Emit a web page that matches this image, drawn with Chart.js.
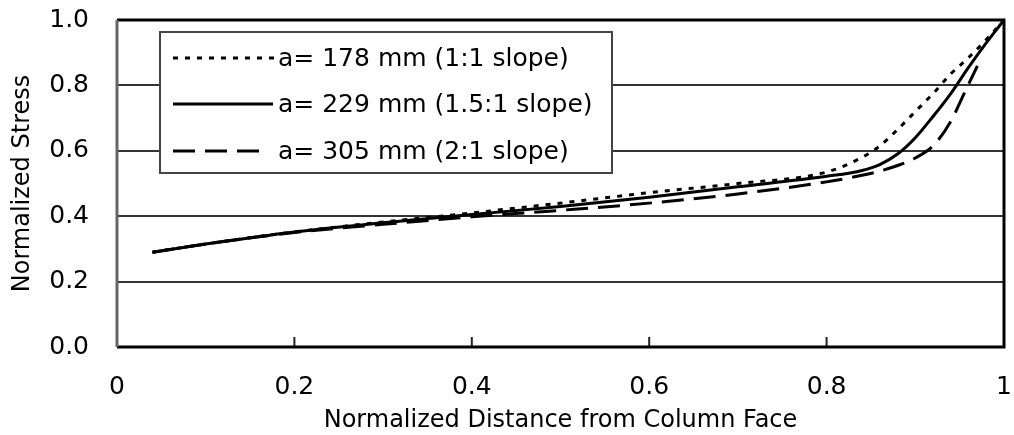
<!DOCTYPE html>
<html>
<head>
<meta charset="utf-8">
<script src="https://cdn.jsdelivr.net/npm/chart.js@4.4.1/dist/chart.umd.min.js"></script>
<style>
  html, body { margin: 0; padding: 0; background: #fff; }
  #wrap { width: 1014px; height: 435px; }
</style>
</head>
<body>
<div id="wrap"><canvas id="stressChart"></canvas></div>
<script>
// Series labels and tick labels
const seriesNames = ['a= 178 mm (1:1 slope)', 'a= 229 mm (1.5:1 slope)', 'a= 305 mm (2:1 slope)'];
const xTickLabels = ['0', '0.2', '0.4', '0.6', '0.8', '1'];
const yTickLabels = ['0.0', '0.2', '0.4', '0.6', '0.8', '1.0'];

// Normalized distance from column face (x) and normalized stress (y)
const dottedX = [0.04, 0.1, 0.2, 0.3, 0.4, 0.5, 0.6, 0.7, 0.8, 0.84, 0.86, 0.88, 0.9, 0.92, 0.94, 0.96, 0.98, 1.0];
const dottedY = [0.29, 0.315, 0.352, 0.382, 0.41, 0.44, 0.472, 0.50, 0.535, 0.58, 0.615, 0.665, 0.72, 0.775, 0.835, 0.885, 0.94, 1.0];

const solidX = [0.04, 0.1, 0.2, 0.3, 0.4, 0.5, 0.6, 0.7, 0.8, 0.84, 0.86, 0.88, 0.9, 0.92, 0.94, 0.96, 0.98, 1.0];
const solidY = [0.29, 0.315, 0.352, 0.38, 0.405, 0.43, 0.458, 0.49, 0.522, 0.54, 0.558, 0.59, 0.64, 0.705, 0.775, 0.855, 0.93, 1.0];

const dashedX = [0.04, 0.1, 0.2, 0.3, 0.4, 0.5, 0.6, 0.7, 0.8, 0.84, 0.86, 0.88, 0.9, 0.92, 0.94, 0.955, 0.97];
const dashedY = [0.29, 0.315, 0.35, 0.375, 0.398, 0.418, 0.44, 0.468, 0.505, 0.525, 0.538, 0.555, 0.578, 0.615, 0.69, 0.775, 0.86];

const lineDashes = [[5, 7], [], [22, 10]];
const FONT = 'DejaVu Sans';

function toPoints(xs, ys) {
    return xs.map((x, i) => ({ x: x, y: ys[i] }));
}

// Frame, inward x ticks and the boxed legend
const framePlugin = {
    id: 'frame',
    afterDraw(chart) {
        const { ctx, chartArea: a, scales } = chart;
        ctx.save();

        // small inward tick marks on the x axis
        ctx.strokeStyle = '#222';
        ctx.lineWidth = 2;
        scales.x.ticks.forEach(t => {
            const px = scales.x.getPixelForValue(t.value);
            ctx.beginPath();
            ctx.moveTo(px, a.bottom);
            ctx.lineTo(px, a.bottom - 10);
            ctx.stroke();
        });

        // plot frame
        ctx.lineWidth = 3;
        ctx.strokeStyle = '#000';
        ctx.beginPath();
        ctx.moveTo(a.left, a.top);
        ctx.lineTo(a.right, a.top);
        ctx.lineTo(a.right, a.bottom);
        ctx.lineTo(a.left, a.bottom);
        ctx.stroke();
        ctx.strokeStyle = '#666';
        ctx.beginPath();
        ctx.moveTo(a.left, a.bottom);
        ctx.lineTo(a.left, a.top);
        ctx.stroke();

        // legend box
        const bx = a.left + 43, by = a.top + 12, bw = 452, bh = 141;
        ctx.fillStyle = '#fff';
        ctx.fillRect(bx, by, bw, bh);
        ctx.lineWidth = 2;
        ctx.strokeStyle = '#444';
        ctx.strokeRect(bx, by, bw, bh);

        const rowY = [38, 84, 131];
        const sampleLen = [104, 100, 88];
        ctx.font = '25px "' + FONT + '"';
        ctx.textBaseline = 'middle';
        ctx.textAlign = 'left';
        chart.data.datasets.forEach((ds, i) => {
            const y = a.top + rowY[i];
            ctx.strokeStyle = '#000';
            ctx.lineWidth = 3;
            ctx.setLineDash(ds.borderDash || []);
            ctx.beginPath();
            ctx.moveTo(a.left + 56, y);
            ctx.lineTo(a.left + 56 + sampleLen[i], y);
            ctx.stroke();
            ctx.setLineDash([]);
            ctx.fillStyle = '#000';
            ctx.fillText(ds.label, a.left + 161, y + 1);
        });
        ctx.restore();
    }
};

const ctx = document.getElementById('stressChart').getContext('2d');
new Chart(ctx, {
    type: 'line',
    data: {
        datasets: [
            { label: seriesNames[0], data: toPoints(dottedX, dottedY), borderDash: lineDashes[0] },
            { label: seriesNames[1], data: toPoints(solidX, solidY), borderDash: lineDashes[1] },
            { label: seriesNames[2], data: toPoints(dashedX, dashedY), borderDash: lineDashes[2] }
        ].map(ds => Object.assign(ds, {
            borderColor: '#000',
            borderWidth: 3,
            pointRadius: 0,
            fill: false,
            cubicInterpolationMode: 'monotone'
        }))
    },
    options: {
        responsive: true,
        maintainAspectRatio: false,
        animation: false,
        layout: { padding: { top: 20, right: 10, left: 0, bottom: 0 } },
        plugins: {
            legend: { display: false },
            tooltip: { enabled: false }
        },
        scales: {
            x: {
                type: 'linear',
                min: 0,
                max: 1,
                grid: { display: false },
                border: { display: false },
                ticks: {
                    stepSize: 0.2,
                    color: '#000',
                    padding: 17,
                    maxRotation: 0,
                    font: { family: FONT, size: 25 },
                    callback: (v, i) => xTickLabels[i]
                },
                title: {
                    display: true,
                    text: 'Normalized Distance from Column Face',
                    color: '#000',
                    font: { family: FONT, size: 24 },
                    padding: { top: 0, bottom: 0 }
                },
                afterFit: s => {
                    s.height = 88;
                    s.paddingLeft = 0;
                    s.paddingRight = 0;
                }
            },
            y: {
                min: 0,
                max: 1,
                grid: { color: '#333', lineWidth: 2, drawTicks: false },
                border: { display: false },
                ticks: {
                    stepSize: 0.2,
                    color: '#000',
                    padding: 28,
                    font: { family: FONT, size: 25 },
                    callback: (v, i) => yTickLabels[i]
                },
                title: {
                    display: true,
                    text: 'Normalized Stress',
                    color: '#000',
                    font: { family: FONT, size: 24 },
                    padding: { top: 8, bottom: 0 }
                },
                afterFit: s => {
                    s.width = 117;
                    s.paddingTop = 0;
                    s.paddingBottom = 0;
                }
            }
        }
    },
    plugins: [framePlugin]
});
</script>
</body>
</html>
